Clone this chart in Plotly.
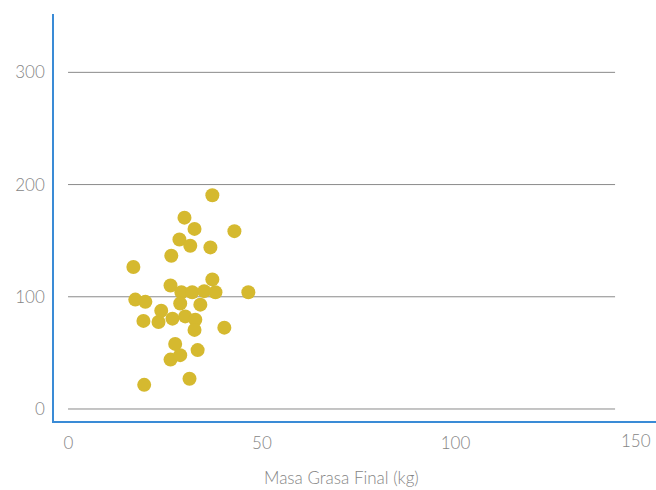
import plotly.graph_objects as go

# Data
masa_grasa_final = [16.8, 17.3, 19.9, 19.4, 19.6, 23.3, 24.0, 26.4, 26.6, 26.9,
                    27.6, 26.4, 28.9, 28.7, 29.2, 28.9, 30.0, 30.2, 31.5, 32.0,
                    31.3, 32.6, 32.8, 32.6, 33.4, 34.1, 35.1, 36.7, 37.2, 37.2,
                    38.0, 40.3, 42.9, 46.5]
y_values = [126.5, 97.5, 95.5, 78.5, 21.5, 77.5, 87.5, 110.0, 136.5, 80.5,
            58.0, 44.0, 48.0, 151.0, 104.0, 94.0, 170.5, 82.5, 145.5, 104.0,
            27.0, 160.5, 79.5, 70.5, 52.5, 93.0, 105.0, 144.0, 190.5, 115.5,
            104.0, 72.5, 158.5, 104.0]

x_ticks = [0, 50, 100, 150]
x_tick_labels = ["0", "50", "100", "150"]
y_ticks = [0, 100, 200, 300]
x_title = "Masa Grasa Final (kg)"

axis_blue = "#3a8bd6"
tick_grey = "#858585"
grid_grey = "#8a8a8a"
point_color = "#D5B92F"
font_family = "'Lato Light', Lato, 'Open Sans', sans-serif"

fig = go.Figure()
fig.add_trace(go.Scatter(
    x=masa_grasa_final, y=y_values, mode="markers",
    marker=dict(size=14, color=point_color, line=dict(width=0)),
    hoverinfo="x+y", showlegend=False,
))

shapes = []
for v in y_ticks:
    shapes.append(dict(type="line", xref="paper", yref="y",
                       x0=0.0233, x1=0.932, y0=v, y1=v,
                       line=dict(color=grid_grey, width=1), layer="below"))

# the last x tick label is kept inside the picture (right-aligned at its tick)
annotations = [dict(text=x_tick_labels[-1], xref="x", yref="paper",
                    x=x_ticks[-1], y=-0.049, xanchor="right", yanchor="middle",
                    xshift=4, showarrow=False,
                    font=dict(family=font_family, size=17, color=tick_grey)),
               dict(text=x_title, xref="paper", yref="paper",
                    x=0.4776, y=-0.14, xanchor="center", yanchor="middle",
                    showarrow=False,
                    font=dict(family=font_family, size=17, color=tick_grey))]

fig.update_layout(
    width=656, height=490,
    margin=dict(l=54, r=0, t=14, b=69, autoexpand=False),
    paper_bgcolor="white", plot_bgcolor="white",
    font=dict(family=font_family, color=tick_grey, size=17),
    xaxis=dict(range=[-3.7, 151.8], tickvals=x_ticks,
               ticktext=x_tick_labels[:-1] + [""], showgrid=False,
               zeroline=False, showline=True, linecolor=axis_blue, linewidth=1.5,
               ticks="", ticklabelstandoff=6, automargin=False,
               tickfont=dict(family=font_family, size=17, color=tick_grey)),
    yaxis=dict(range=[-10.7, 352], tickvals=y_ticks, showgrid=False,
               zeroline=False, showline=True, linecolor=axis_blue, linewidth=1.5,
               ticks="", ticklabelstandoff=4, automargin=False,
               tickfont=dict(family=font_family, size=17, color=tick_grey)),
    shapes=shapes,
    annotations=annotations,
)

fig.write_html("out.html", config={"displayModeBar": False},
               post_script="document.body.style.margin='0';document.body.style.overflow='hidden';")
